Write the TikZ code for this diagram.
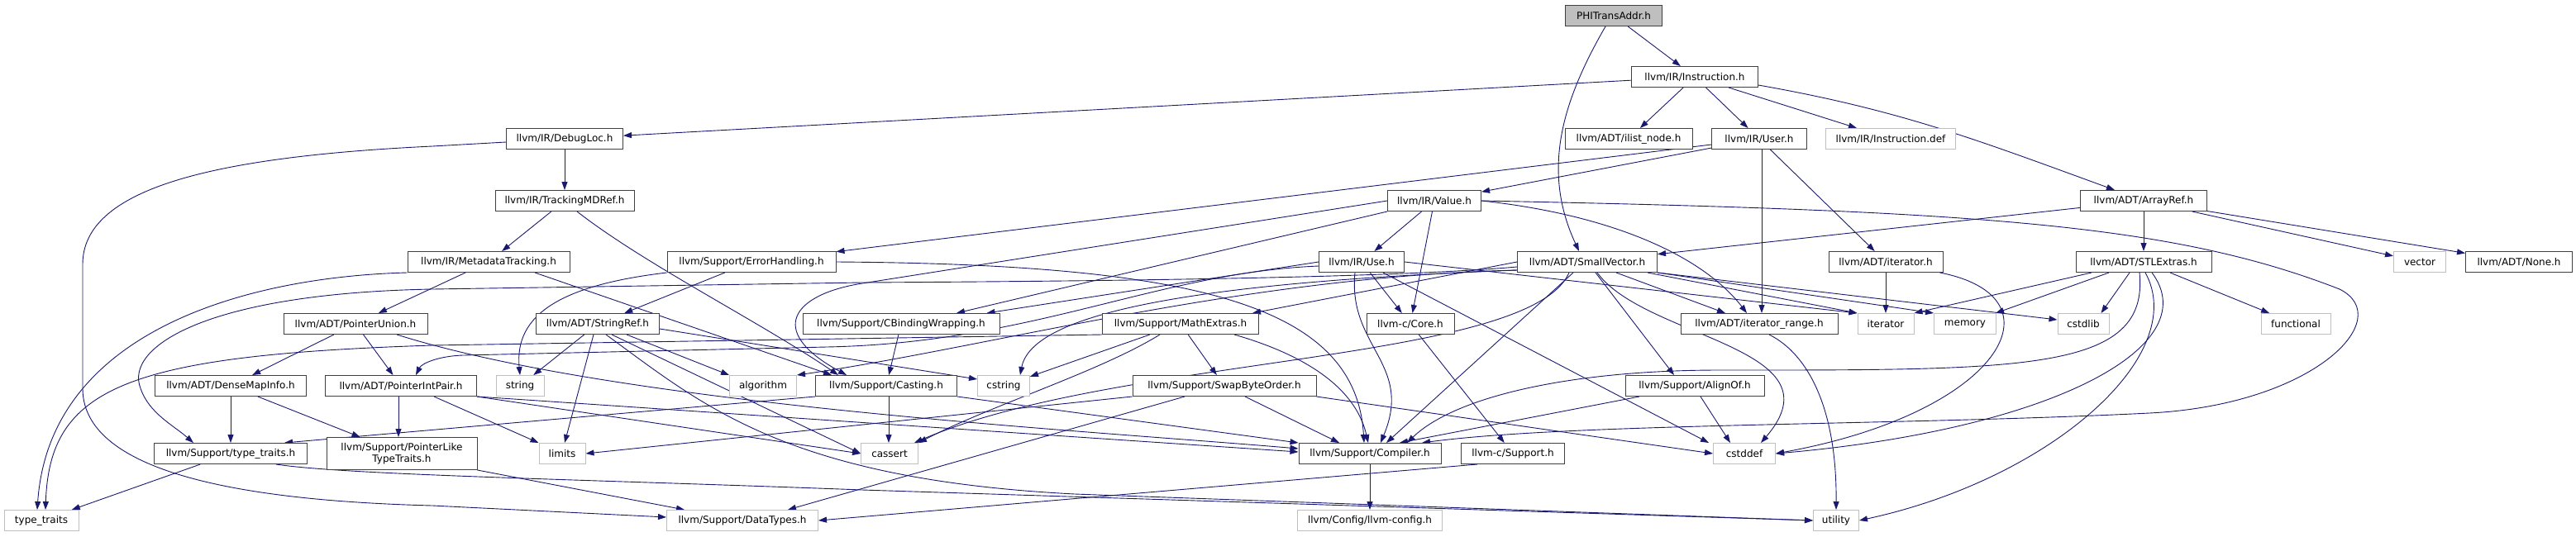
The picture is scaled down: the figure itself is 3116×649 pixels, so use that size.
\documentclass[tikz,border=0pt]{standalone}
\usepackage{fontspec}
\setmainfont{DejaVu Sans}
\usetikzlibrary{arrows.meta,backgrounds}
\definecolor{dxedge}{RGB}{25,25,112}
\definecolor{dxframe}{RGB}{64,64,64}
\definecolor{dxgray}{RGB}{191,191,191}
\tikzset{
  filenode/.style={rectangle,draw=dxframe,line width=1pt,fill=white,inner sep=0pt,minimum height=25pt,font=\fontsize{12}{14}\selectfont},
  sysnode/.style={filenode,draw=dxgray},
  rootnode/.style={filenode,fill=dxgray},
  inclarrow/.style={-{Triangle[length=10pt,width=7pt]},line width=0.9pt,draw=dxedge}
}

\begin{document}
\begin{tikzpicture}[x=1pt,y=-1pt]
  \useasboundingbox (0,0) rectangle (3116,649);
  \node[rootnode,minimum width=117pt] (phitrans) at (1952,19) {PHITransAddr.h};
  \node[filenode,minimum width=153pt] (instruction) at (2050,93) {llvm/IR/Instruction.h};
  \node[filenode,minimum width=141pt] (debugloc) at (683,168) {llvm/IR/DebugLoc.h};
  \node[filenode,minimum width=154pt] (ilistnode) at (1970,168) {llvm/ADT/ilist\_node.h};
  \node[filenode,minimum width=115pt] (user) at (2128,168) {llvm/IR/User.h};
  \node[sysnode,minimum width=157pt] (instdef) at (2287,168) {llvm/IR/Instruction.def};
  \node[filenode,minimum width=168pt] (trackingmd) at (683,243) {llvm/IR/TrackingMDRef.h};
  \node[filenode,minimum width=113pt] (value) at (1735,243) {llvm/IR/Value.h};
  \node[filenode,minimum width=153pt] (arrayref) at (2593,243) {llvm/ADT/ArrayRef.h};
  \node[filenode,minimum width=196pt] (metatracking) at (591,317) {llvm/IR/MetadataTracking.h};
  \node[filenode,minimum width=204pt] (errhandling) at (909,317) {llvm/Support/ErrorHandling.h};
  \node[filenode,minimum width=103pt] (use) at (1647,317) {llvm/IR/Use.h};
  \node[filenode,minimum width=169pt] (smallvector) at (1920,317) {llvm/ADT/SmallVector.h};
  \node[filenode,minimum width=138pt] (iteratorh) at (2281,317) {llvm/ADT/iterator.h};
  \node[filenode,minimum width=164pt] (stlextras) at (2593,317) {llvm/ADT/STLExtras.h};
  \node[sysnode,minimum width=63pt] (vector) at (2927,317) {vector};
  \node[filenode,minimum width=129pt] (nonehdr) at (3047,317) {llvm/ADT/None.h};
  \node[filenode,minimum width=174pt] (ptrunion) at (430,392) {llvm/ADT/PointerUnion.h};
  \node[filenode,minimum width=149pt] (stringref) at (723,392) {llvm/ADT/StringRef.h};
  \node[filenode,minimum width=238pt] (cbinding) at (1090,392) {llvm/Support/CBindingWrapping.h};
  \node[filenode,minimum width=189pt] (mathextras) at (1428,392) {llvm/Support/MathExtras.h};
  \node[filenode,minimum width=106pt] (corec) at (1706,392) {llvm-c/Core.h};
  \node[filenode,minimum width=190pt] (iterrange) at (2128,392) {llvm/ADT/iterator\_range.h};
  \node[sysnode,minimum width=68pt] (iterator) at (2281,392) {iterator};
  \node[sysnode,minimum width=75pt] (memory) at (2377,392) {memory};
  \node[sysnode,minimum width=62pt] (cstdlib) at (2520,392) {cstdlib};
  \node[sysnode,minimum width=84pt] (functional) at (2777,392) {functional};
  \node[filenode,minimum width=183pt] (densemap) at (279,467) {llvm/ADT/DenseMapInfo.h};
  \node[filenode,minimum width=183pt] (ptrintpair) at (485,467) {llvm/ADT/PointerIntPair.h};
  \node[sysnode,minimum width=58pt] (string) at (629,467) {string};
  \node[sysnode,minimum width=81pt] (algorithm) at (923,467) {algorithm};
  \node[filenode,minimum width=171pt] (casting) at (1072,467) {llvm/Support/Casting.h};
  \node[sysnode,minimum width=63pt] (cstring) at (1214,467) {cstring};
  \node[filenode,minimum width=222pt] (swapbyte) at (1481,467) {llvm/Support/SwapByteOrder.h};
  \node[filenode,minimum width=168pt] (alignof) at (2050,467) {llvm/Support/AlignOf.h};
  \node[filenode,minimum width=185pt] (suptypetraits) at (279,549) {llvm/Support/type\_traits.h};
  \node[filenode,minimum width=182pt,minimum height=39pt,align=center] (ptrlike) at (486,549) {llvm/Support/PointerLike\\TypeTraits.h};
  \node[sysnode,minimum width=56pt] (limits) at (680,549) {limits};
  \node[sysnode,minimum width=69pt] (cassert) at (1076,549) {cassert};
  \node[filenode,minimum width=172pt] (compiler) at (1657,549) {llvm/Support/Compiler.h};
  \node[filenode,minimum width=125pt] (csupport) at (1830,549) {llvm-c/Support.h};
  \node[sysnode,minimum width=75pt] (cstddef) at (2110,549) {cstddef};
  \node[sysnode,minimum width=90pt] (typetraits) at (50,630) {type\_traits};
  \node[sysnode,minimum width=183pt] (datatypes) at (898,630) {llvm/Support/DataTypes.h};
  \node[sysnode,minimum width=175pt] (llvmconfig) at (1657,630) {llvm/Config/llvm-config.h};
  \node[sysnode,minimum width=55pt] (utility) at (2221,630) {utility};
  \begin{scope}[on background layer]
    \draw[inclarrow] (phitrans) -- (instruction);
    \draw[inclarrow] ([xshift=-10pt]phitrans.south) to[out=240,in=115] ([xshift=-10pt]smallvector.north);
    \draw[inclarrow] (instruction) -- (debugloc);
    \draw[inclarrow] (instruction) -- (ilistnode);
    \draw[inclarrow] (instruction) -- (user);
    \draw[inclarrow] (instruction) -- (instdef);
    \draw[inclarrow] ([yshift=-10pt]instruction.east) to[out=-10,in=160] ([xshift=-35pt]arrayref.north);
    \draw[inclarrow] (debugloc) -- (trackingmd);
    \draw[inclarrow] ([yshift=-4pt]debugloc.west) -- (523,177) .. controls (250,190) and (100,230) .. (100,320) -- (100,470) .. controls (100,560) and (250,605) .. (523,612) -- ([yshift=4pt]datatypes.west);
    \draw[inclarrow] (trackingmd) -- (metatracking);
    \draw[inclarrow] ([xshift=15pt]trackingmd.south) .. controls (780,320) and (920,390) .. ([xshift=-58pt]casting.north);
    \draw[inclarrow] (metatracking) -- (ptrunion);
    \draw[inclarrow] ([xshift=56pt]metatracking.south) -- ([xshift=-66pt]casting.north);
    \draw[inclarrow] (metatracking.south west) .. controls (300,335) and (60,400) .. ([xshift=-5pt]typetraits.north);
    \draw[inclarrow] (user) -- (value);
    \draw[inclarrow] (user) -- (errhandling);
    \draw[inclarrow] (user) -- (iteratorh);
    \draw[inclarrow] ([xshift=3pt]user.south) -- ([xshift=3pt]iterrange.north);
    \draw[inclarrow] (value) -- (use);
    \draw[inclarrow] (value) -- (corec);
    \draw[inclarrow] (value.south west) -- ([xshift=67pt]cbinding.north);
    \draw[inclarrow] (value.west) -- (1043,343) .. controls (960,356) and (925,400) .. ([xshift=-48pt]casting.north);
    \draw[inclarrow] (value.east) .. controls (1950,260) and (2060,310) .. ([xshift=-15pt]iterrange.north);
    \draw[inclarrow] (value.east) .. controls (2400,255) and (2630,272) .. (2830,350) .. controls (2900,385) and (2800,490) .. (2600,500) .. controls (2300,515) and (1900,512) .. ([xshift=63pt]compiler.north);
    \draw[inclarrow] ([yshift=-5pt]use.west) .. controls (1400,330) and (1250,415) .. (1000,420) -- (560,430) .. controls (530,431) and (510,440) .. ([xshift=18pt]ptrintpair.north);
    \draw[inclarrow] (use.west) -- ([xshift=-16pt]cbinding.north east);
    \draw[inclarrow] (use) -- (corec);
    \draw[inclarrow] ([xshift=-8pt]use.south) .. controls (1630,420) and (1710,440) .. ([xshift=13pt]compiler.north);
    \draw[inclarrow] (use.east) -- (iterator.north west);
    \draw[inclarrow] ([xshift=26pt]use.south) -- ([xshift=-5pt]cstddef.north west);
    \draw[inclarrow] ([xshift=35pt]smallvector.south) -- ([xshift=-41pt]iterrange.north);
    \draw[inclarrow] ([xshift=10pt]smallvector.south) -- ([xshift=-25pt]alignof.north);
    \draw[inclarrow] ([xshift=-17pt]smallvector.south) -- ([xshift=20pt]compiler.north);
    \draw[inclarrow] (smallvector.west) -- ([xshift=-8pt]mathextras.north east);
    \draw[inclarrow] ([yshift=-6pt]smallvector.west) .. controls (1700,335) and (1400,340) .. (1043,342) -- (523,350) .. controls (250,355) and (150,420) .. (170,470) .. controls (180,500) and (210,515) .. ([xshift=-45pt]suptypetraits.north);
    \draw[inclarrow] ([yshift=-10pt]smallvector.west) .. controls (1500,335) and (1200,420) .. (algorithm.north east);
    \draw[inclarrow] ([yshift=-10pt]smallvector.west) .. controls (1500,340) and (1250,370) .. ([xshift=-12pt]cstring.north east);
    \draw[inclarrow] ([xshift=-22pt]smallvector.south) .. controls (1850,440) and (1350,430) .. ([xshift=-5pt]cassert.north east);
    \draw[inclarrow] ([xshift=12pt]smallvector.south) .. controls (1990,410) and (2230,420) .. ([xshift=20pt]cstddef.north);
    \draw[inclarrow] ([xshift=73pt]smallvector.south) -- (iterator.north west);
    \draw[inclarrow] (smallvector.south east) -- (memory.north west);
    \draw[inclarrow] (smallvector.south east) -- ([yshift=5pt]cstdlib.west);
    \draw[inclarrow] (arrayref) -- (smallvector);
    \draw[inclarrow] (arrayref) -- (stlextras);
    \draw[inclarrow] (arrayref) -- (vector);
    \draw[inclarrow] (arrayref) -- (nonehdr);
    \draw[inclarrow] (errhandling) -- (stringref);
    \draw[inclarrow] (errhandling.south west) .. controls (680,345) and (622,380) .. (string.north);
    \draw[inclarrow] (errhandling.east) .. controls (1450,320) and (1640,370) .. ([xshift=-7pt]compiler.north);
    \draw[inclarrow] (stringref) -- (string);
    \draw[inclarrow] ([xshift=-5pt]stringref.south) -- ([xshift=3pt]limits.north);
    \draw[inclarrow] ([xshift=10pt]stringref.south) .. controls (850,490) and (950,580) .. (1300,598) -- (utility.west);
    \draw[inclarrow] ([xshift=17pt]stringref.south) -- (cassert.west);
    \draw[inclarrow] ([xshift=35pt]stringref.south) -- (algorithm.north west);
    \draw[inclarrow] ([yshift=-6pt]stringref.east) -- ([yshift=8pt]cstring.west);
    \draw[inclarrow] ([xshift=3pt]casting.south) -- ([xshift=-1pt]cassert.north);
    \draw[inclarrow] (casting.south east) -- (compiler.north west);
    \draw[inclarrow] (casting.south west) -- ([xshift=-28pt]suptypetraits.north east);
    \draw[inclarrow] (cbinding) -- (casting);
    \draw[inclarrow] (mathextras) -- (swapbyte);
    \draw[inclarrow] (mathextras) -- (cstring);
    \draw[inclarrow] ([xshift=-25pt]mathextras.south) .. controls (1330,450) and (1200,490) .. (cassert.north east);
    \draw[inclarrow] ([xshift=-30pt]mathextras.south east) .. controls (1580,430) and (1640,470) .. ([xshift=-2pt]compiler.north);
    \draw[inclarrow] (mathextras.south west) -- (523,418) .. controls (150,430) and (60,470) .. ([xshift=5pt]typetraits.north);
    \draw[inclarrow] (swapbyte.south west) -- (limits.east);
    \draw[inclarrow] ([xshift=-48pt]swapbyte.south) -- ([xshift=55pt]datatypes.north);
    \draw[inclarrow] ([xshift=25pt]swapbyte.south) -- ([xshift=-37pt]compiler.north);
    \draw[inclarrow] (swapbyte.south east) -- (cstddef.west);
    \draw[inclarrow] (corec) -- (csupport);
    \draw[inclarrow] ([xshift=20pt]csupport.south west) -- (datatypes.east);
    \draw[inclarrow] (compiler) -- (llvmconfig);
    \draw[inclarrow] ([xshift=-67pt]alignof.south) -- ([xshift=36pt]compiler.north);
    \draw[inclarrow] ([xshift=7pt]alignof.south) -- ([xshift=-17pt]cstddef.north);
    \draw[inclarrow] (iteratorh) -- (iterator);
    \draw[inclarrow] ([xshift=-4pt]iteratorh.south east) .. controls (2500,360) and (2420,500) .. (cstddef.east);
    \draw[inclarrow] ([xshift=12pt]iterrange.south) .. controls (2190,430) and (2222,500) .. (utility.north);
    \draw[inclarrow] ([xshift=-63pt]stlextras.south) -- (iterator.north east);
    \draw[inclarrow] ([xshift=-42pt]stlextras.south) -- ([xshift=-1pt]memory.north east);
    \draw[inclarrow] ([xshift=-17pt]stlextras.south) -- ([xshift=-10pt]cstdlib.north east);
    \draw[inclarrow] ([xshift=-5pt]stlextras.south) .. controls (2600,450) and (2450,448) .. (2080,448) .. controls (1900,448) and (1760,480) .. ([xshift=45pt]compiler.north);
    \draw[inclarrow] ([xshift=10pt]stlextras.south) .. controls (2670,420) and (2480,520) .. (cstddef.east);
    \draw[inclarrow] ([xshift=2pt]stlextras.south) .. controls (2650,430) and (2480,580) .. (utility.east);
    \draw[inclarrow] (stlextras) -- (functional);
    \draw[inclarrow] (ptrunion) -- (densemap);
    \draw[inclarrow] (ptrunion) -- (ptrintpair);
    \draw[inclarrow] ([xshift=50pt]ptrunion.south) .. controls (750,490) and (1300,520) .. ([yshift=6pt]compiler.west);
    \draw[inclarrow] ([xshift=-3pt]ptrintpair.south) -- ([xshift=-4pt]ptrlike.north);
    \draw[inclarrow] ([xshift=40pt]ptrintpair.south) -- (limits.north west);
    \draw[inclarrow] (ptrintpair.south east) -- (cassert.west);
    \draw[inclarrow] (ptrintpair.south east) -- ([yshift=2pt]compiler.west);
    \draw[inclarrow] (densemap) -- (suptypetraits);
    \draw[inclarrow] (densemap) -- (ptrlike);
    \draw[inclarrow] (ptrlike.south east) -- ([xshift=-70pt]datatypes.north);
    \draw[inclarrow] (suptypetraits) -- (typetraits);
    \draw[inclarrow] ([xshift=55pt]suptypetraits.south) .. controls (420,575) and (700,580) .. (1043,593) -- (utility.west);
  \end{scope}
\end{tikzpicture}
\end{document}
